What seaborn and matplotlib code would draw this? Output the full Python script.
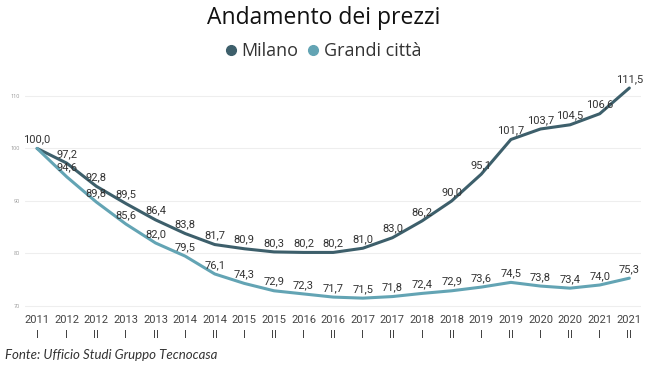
import pandas as pd
import matplotlib.pyplot as plt
from matplotlib.lines import Line2D
import seaborn as sns

# Periods (year + semester)
years = ['2011', '2012', '2012', '2013', '2013', '2014', '2014', '2015', '2015', '2016', '2016',
         '2017', '2017', '2018', '2018', '2019', '2019', '2020', '2020', '2021', '2021']
semesters = ['I', 'I', 'II', 'I', 'II', 'I', 'II', 'I', 'II', 'I', 'II',
             'I', 'II', 'I', 'II', 'I', 'II', 'I', 'II', 'I', 'II']

milano = [100.0, 97.2, 92.8, 89.5, 86.4, 83.8, 81.7, 80.9, 80.3, 80.2, 80.2,
          81.0, 83.0, 86.2, 90.0, 95.1, 101.7, 103.7, 104.5, 106.6, 111.5]
grandi = [100.0, 94.6, 89.8, 85.6, 82.0, 79.5, 76.1, 74.3, 72.9, 72.3, 71.7,
          71.5, 71.8, 72.4, 72.9, 73.6, 74.5, 73.8, 73.4, 74.0, 75.3]

series_names = ['Milano', 'Grandi città']
colors = {'Milano': '#3d5f6b', 'Grandi città': '#63a4b4'}

n = len(years)
df = pd.DataFrame({
    'idx': list(range(n)) * 2,
    'valore': milano + grandi,
    'serie': ['Milano'] * n + ['Grandi città'] * n,
})

sns.set_style('white')
plt.rcParams['font.family'] = ['Open Sans', 'DejaVu Sans']

fig = plt.figure(figsize=(6.47, 3.71), dpi=100)
ax = fig.add_axes([0.039, 0.161, 0.952, 0.623])

sns.lineplot(data=df, x='idx', y='valore', hue='serie', hue_order=series_names,
             palette=colors, linewidth=2.2, legend=False, ax=ax)

# data labels
for name, vals in [('Milano', milano), ('Grandi città', grandi)]:
    for i, v in enumerate(vals):
        if name == 'Grandi città' and i == 0:
            continue
        ax.annotate(f'{v:.1f}'.replace('.', ','), (i, v), xytext=(0, 3),
                    textcoords='offset points', ha='center', va='bottom',
                    fontsize=8, color='#333333', family='Roboto')

ax.set_xlim(-0.4, n - 0.6)
ax.set_ylim(69, 113)
ax.set_yticks([70, 80, 90, 100, 110])
ax.set_xticks(range(n))
ax.set_xticklabels([f'{y}\n{s}' for y, s in zip(years, semesters)], family='Roboto',
                   linespacing=1.55)
ax.tick_params(axis='x', labelsize=8, labelcolor='#444444', length=0, pad=3)
ax.tick_params(axis='y', labelsize=4, labelcolor='#999999', length=0, pad=4)
ax.yaxis.grid(True, color='#eeeeee', linewidth=0.8)
ax.set_xlabel('')
ax.set_ylabel('')
sns.despine(ax=ax, left=True, bottom=True)

fig.suptitle('Andamento dei prezzi', x=0.5, y=0.985, fontsize=16.5, color='#111111')
handles = [Line2D([], [], marker='o', linestyle='', color=colors[s], markersize=7) for s in series_names]
fig.legend(handles, series_names, loc='center', bbox_to_anchor=(0.5, 0.862), ncol=2,
           frameon=False, fontsize=13, handlelength=0.6, handletextpad=0.3,
           columnspacing=0.5, labelcolor='#333333')

fig.text(0.008, 0.033, 'Fonte: Ufficio Studi Gruppo Tecnocasa', fontsize=9.5,
         style='italic', color='#333333', family='Lato')

fig.savefig('out.png', dpi=100)
